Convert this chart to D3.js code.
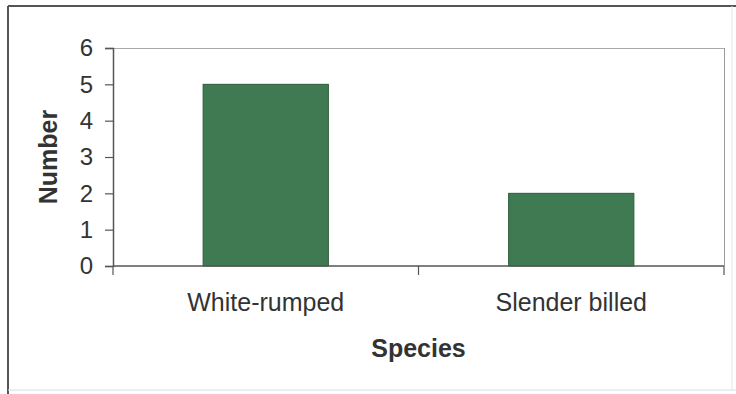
<!DOCTYPE html>
<html>
<head>
<meta charset="utf-8">
<script src="https://cdn.jsdelivr.net/npm/d3@7/dist/d3.min.js"></script>
<style>
  html, body { margin: 0; padding: 0; background: #fff; }
  svg { display: block; }
  text { font-family: "Liberation Sans", Arial, sans-serif; fill: #333; }
</style>
</head>
<body>
<svg id="chart" width="736" height="394"></svg>
<script>
const categories = ["White-rumped", "Slender billed"];
const values = [5, 2];
const yTicks = [0, 1, 2, 3, 4, 5, 6];
const xTitle = "Species";
const yTitle = "Number";

const svg = d3.select("#chart");
const W = 736, H = 394;
const plot = { left: 113, right: 724, top: 48, bottom: 266 };

// outer frame
svg.append("rect").attr("x", 0).attr("y", 0).attr("width", W).attr("height", H).attr("fill", "#fff");
svg.append("line").attr("x1", 8).attr("x2", 736).attr("y1", 6).attr("y2", 6).attr("stroke", "#555").attr("stroke-width", 2);
svg.append("line").attr("x1", 8).attr("x2", 8).attr("y1", 6).attr("y2", 394).attr("stroke", "#555").attr("stroke-width", 2);
svg.append("line").attr("x1", 8).attr("x2", 736).attr("y1", 390).attr("y2", 390).attr("stroke", "#ddd").attr("stroke-width", 1);
svg.append("line").attr("x1", 732).attr("x2", 732).attr("y1", 6).attr("y2", 390).attr("stroke", "#e4e4e4").attr("stroke-width", 1);

const x = d3.scaleBand().domain(categories).range([plot.left, plot.right]).padding(0);
const y = d3.scaleLinear().domain([0, 6]).range([plot.bottom, plot.top]);

// plot area border (top and right)
svg.append("line").attr("x1", plot.left).attr("x2", plot.right).attr("y1", plot.top + 0.5).attr("y2", plot.top + 0.5).attr("stroke", "#aaa");
svg.append("line").attr("x1", plot.right + 0.5).attr("x2", plot.right + 0.5).attr("y1", plot.top).attr("y2", plot.bottom).attr("stroke", "#999");

// bars
const barFrac = 0.41;
svg.append("g").selectAll("rect").data(values).join("rect")
  .attr("x", (d, i) => x(categories[i]) + x.bandwidth() * (1 - barFrac) / 2)
  .attr("width", x.bandwidth() * barFrac)
  .attr("y", d => y(d))
  .attr("height", d => y(0) - y(d))
  .attr("fill", "#3f7a52")
  .attr("stroke", "#2e5c3d")
  .attr("stroke-width", 1);

// y axis
const yAxis = d3.axisLeft(y).tickValues(yTicks).tickFormat(d3.format("d")).tickSize(8).tickPadding(12);
const gy = svg.append("g").attr("transform", `translate(${plot.left},0)`).call(yAxis);
gy.select(".domain").attr("stroke", "#555").attr("stroke-width", 1.5);
gy.selectAll(".tick line").attr("stroke", "#555").attr("stroke-width", 1.2);
gy.selectAll(".tick text").attr("font-size", 24).attr("fill", "#333").style("font-family", "Liberation Sans, Arial, sans-serif");

// x axis line with boundary ticks
const gx = svg.append("g").attr("transform", `translate(0,${plot.bottom})`);
gx.append("line").attr("x1", plot.left).attr("x2", plot.right).attr("stroke", "#555").attr("stroke-width", 1.5);
const boundaries = categories.map(c => x(c)).concat([x(categories[categories.length - 1]) + x.bandwidth()]);
gx.selectAll("line.bt").data(boundaries).join("line").attr("class", "bt")
  .attr("x1", d => d).attr("x2", d => d).attr("y1", 0).attr("y2", 9)
  .attr("stroke", "#555").attr("stroke-width", 1.2);
gx.selectAll("text.cat").data(categories).join("text").attr("class", "cat")
  .attr("x", d => x(d) + x.bandwidth() / 2)
  .attr("y", 45)
  .attr("text-anchor", "middle")
  .attr("font-size", 25)
  .text(d => d);

// axis titles
svg.append("text")
  .attr("x", (plot.left + plot.right) / 2)
  .attr("y", 357)
  .attr("text-anchor", "middle")
  .attr("font-size", 25)
  .attr("font-weight", "bold")
  .text(xTitle);

svg.append("text")
  .attr("transform", `translate(57,${(plot.top + plot.bottom) / 2}) rotate(-90)`)
  .attr("text-anchor", "middle")
  .attr("font-size", 25)
  .attr("font-weight", "bold")
  .text(yTitle);
</script>
</body>
</html>
